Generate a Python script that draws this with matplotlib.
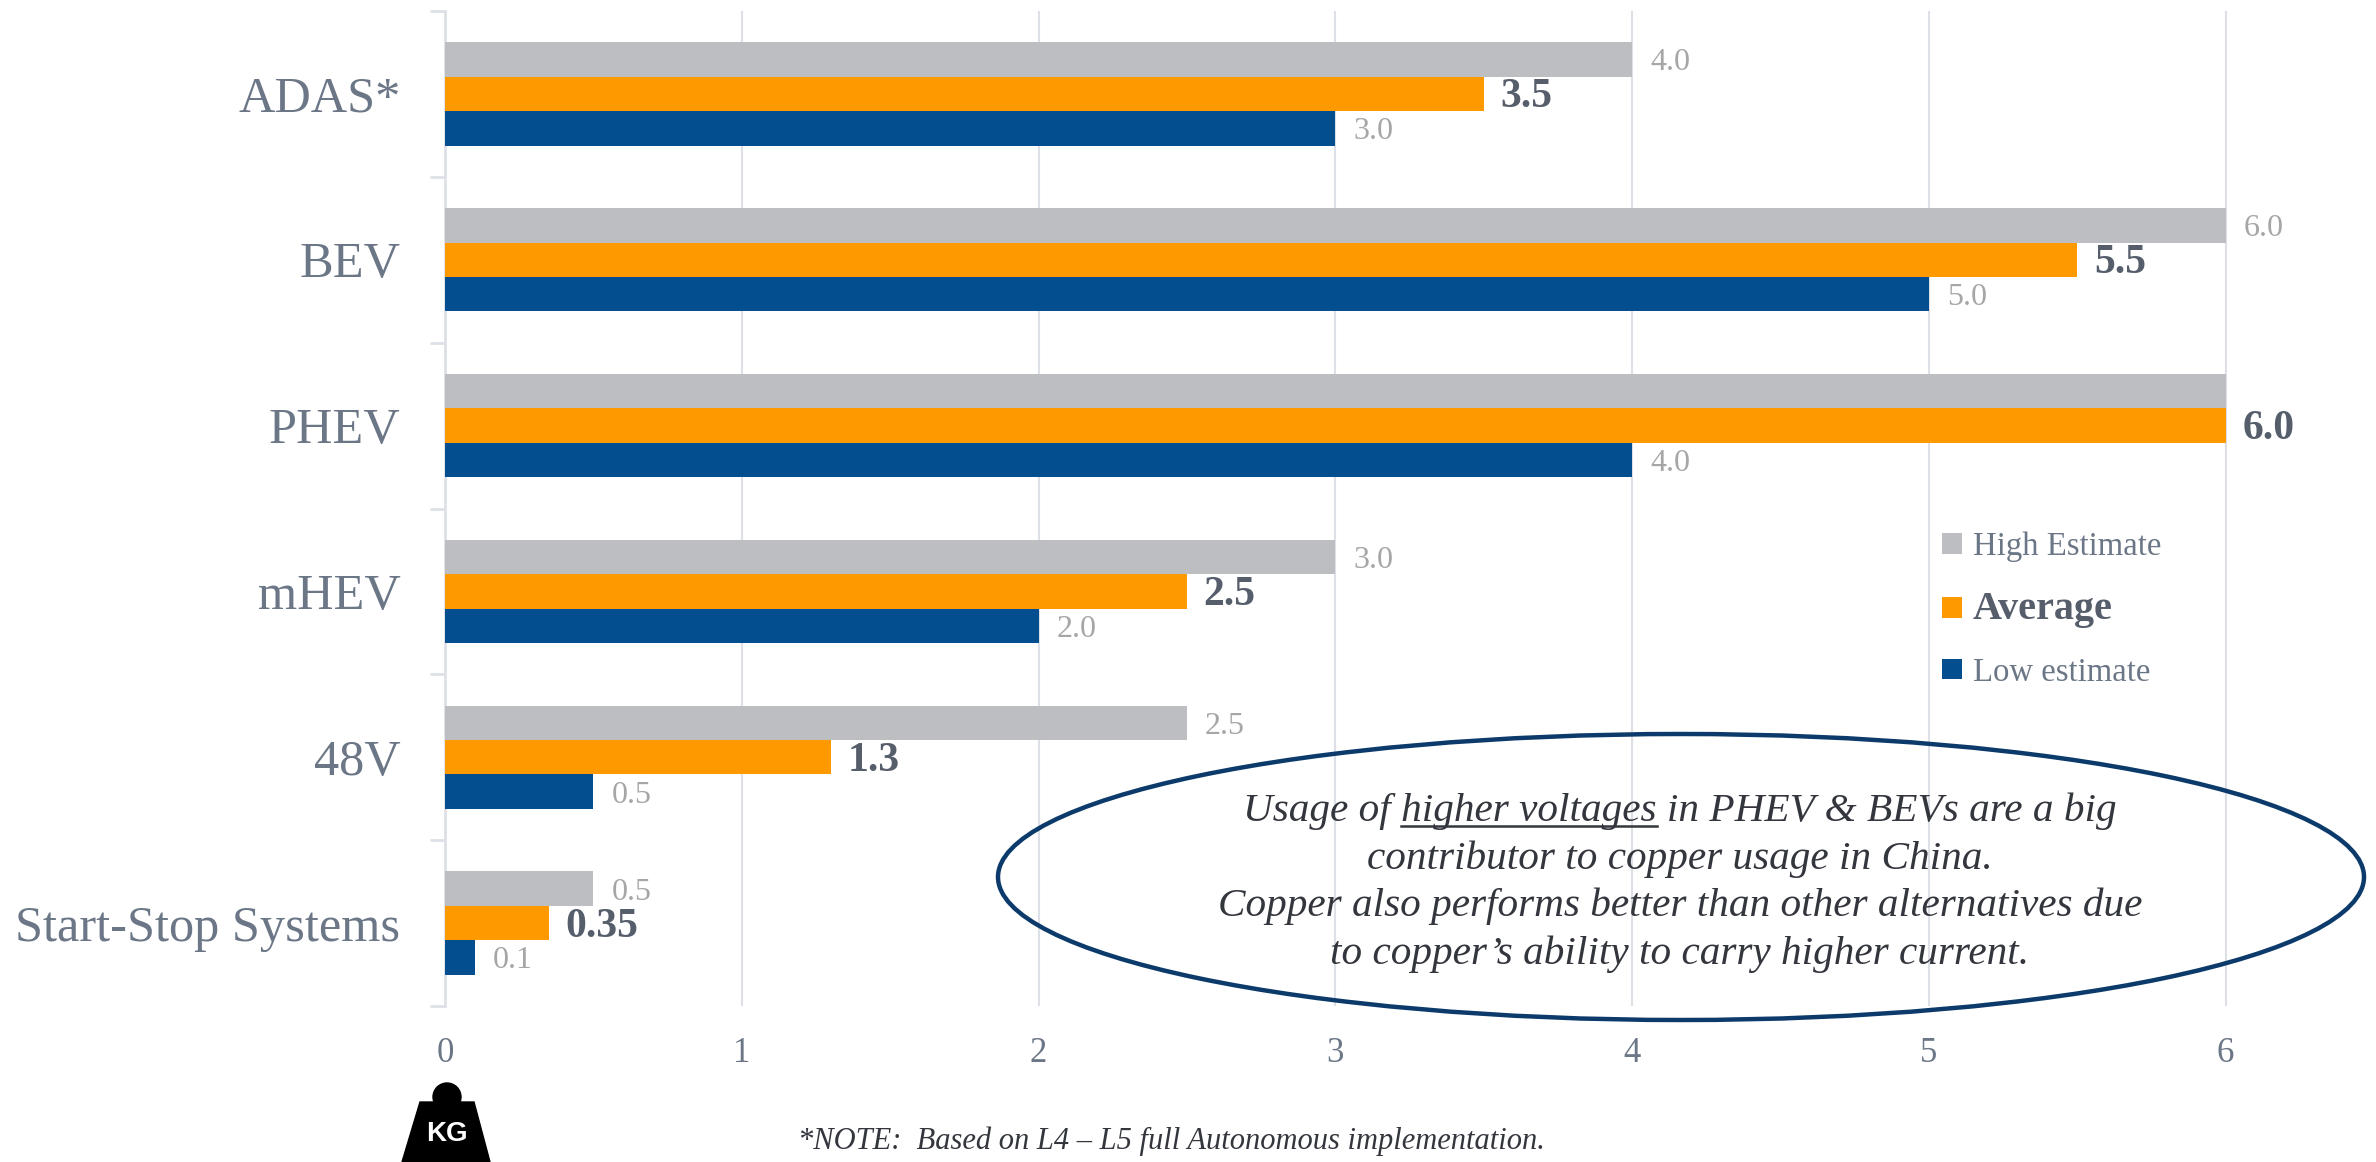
import numpy as np
import matplotlib
matplotlib.use('Agg')
import matplotlib.pyplot as plt
from matplotlib.patches import Ellipse, Polygon, Circle

plt.rcParams['font.family'] = ['Liberation Serif', 'DejaVu Serif']

# data
categories = ['ADAS*', 'BEV', 'PHEV', 'mHEV', '48V', 'Start-Stop Systems']
high = [4.0, 6.0, 6.0, 3.0, 2.5, 0.5]
average = [3.5, 5.5, 6.0, 2.5, 1.3, 0.35]
low = [3.0, 5.0, 4.0, 2.0, 0.5, 0.1]
high_labels = ['4.0', '6.0', '', '3.0', '2.5', '0.5']
average_labels = ['3.5', '5.5', '6.0', '2.5', '1.3', '0.35']
low_labels = ['3.0', '5.0', '4.0', '2.0', '0.5', '0.1']
x_ticks = [0, 1, 2, 3, 4, 5, 6]
note_lines = ['Usage of higher voltages in PHEV & BEVs are a big',
              'contributor to copper usage in China.',
              'Copper also performs better than other alternatives due',
              'to copper\u2019s ability to carry higher current.']

W, H = 2376, 1162
GREY_BAR = '#BCBEC2'
ORANGE = '#FF9900'
BLUE = '#034E8F'
AXIS_C = '#DDE0E6'
LABEL_C = '#6B7686'
VALUE_C = '#A6A6A6'
BOLD_C = '#565E6C'
TEXT_C = '#33363D'

fig = plt.figure(figsize=(W / 100, H / 100), dpi=100)
ax = fig.add_axes([445 / W, 1 - 1006 / H, 1929 / W, 995 / H])

y = np.arange(len(categories))
bh = 0.2075
bars_high = ax.barh(y - bh, high, bh, color=GREY_BAR, label='High Estimate', zorder=3)
bars_avg = ax.barh(y, average, bh, color=ORANGE, label='Average', zorder=3)
bars_low = ax.barh(y + bh, low, bh, color=BLUE, label='Low estimate', zorder=3)

ax.set_xlim(0, 6.5)
ax.set_ylim(5.5, -0.5)

# value labels next to the bars, nudged down a little
value_texts = []
value_texts += ax.bar_label(bars_high, labels=high_labels, padding=13, fontsize=23, color=VALUE_C)
value_texts += ax.bar_label(bars_avg, labels=average_labels, padding=12, fontsize=30, color=BOLD_C, fontweight='bold')
value_texts += ax.bar_label(bars_low, labels=low_labels, padding=13, fontsize=23, color=VALUE_C)
for t in value_texts:
    t.xyann = (t.xyann[0], -2.5)

# axes
for s in ['top', 'right', 'bottom']:
    ax.spines[s].set_visible(False)
ax.spines['left'].set_color(AXIS_C)
ax.spines['left'].set_linewidth(2)
ax.set_xticks(x_ticks)
ax.tick_params(axis='x', length=0, pad=22, labelsize=25, labelcolor=LABEL_C)
ax.set_yticks(np.arange(-0.5, 6), labels=[''] * 7)
ax.tick_params(axis='y', which='major', length=11, width=2, color=AXIS_C)
ax.set_yticks(y, labels=categories, minor=True)
ax.tick_params(axis='y', which='minor', length=0, pad=32, labelsize=36.3, labelcolor=LABEL_C)
ax.grid(axis='x', color=AXIS_C, linewidth=1.5, zorder=0)
ax.set_axisbelow(True)

# legend
leg = ax.legend(handles=[bars_high, bars_avg, bars_low], frameon=False, loc='upper left',
                bbox_to_anchor=(0.776, 0.4765), fontsize=23.6, labelspacing=0.88,
                handlelength=0.6, handleheight=0.6, handletextpad=0.35, labelcolor=LABEL_C,
                borderaxespad=0, borderpad=0)
leg.get_texts()[1].set_fontweight('bold')
leg.get_texts()[1].set_fontsize(29)
leg.get_texts()[1].set_color(BOLD_C)

# overlay in pixel coordinates for the callout, note and weight icon
ov = fig.add_axes([0, 0, 1, 1])
ov.set_xlim(0, W)
ov.set_ylim(H, 0)
ov.axis('off')
ov.patch.set_alpha(0)

ov.add_patch(Ellipse((1681, 877), 1366, 286, fill=False, edgecolor='#0B3A6B', linewidth=3.2))

line_y = [811, 859, 906, 954]
for txt, ly in zip(note_lines, line_y):
    ov.text(1680, ly, txt, ha='center', va='center', fontsize=29.7, style='italic', color=TEXT_C)

# underline for "higher voltages", measured from the first line
fig.canvas.draw()
rend = fig.canvas.get_renderer()
def text_w(s):
    t = ov.text(0, 0, s, fontsize=29.7, style='italic')
    w = t.get_window_extent(rend).width
    t.remove()
    return w
full = text_w(note_lines[0])
x0 = 1680 - full / 2 + text_w('Usage of ')
x1 = 1680 - full / 2 + text_w('Usage of higher voltages')
ov.plot([x0, x1], [826, 826], color=TEXT_C, linewidth=1.8)

ov.text(798, 1141, '*NOTE:  Based on L4 \u2013 L5 full Autonomous implementation.', ha='left', va='center',
        fontsize=22, style='italic', color=TEXT_C)

# KG weight icon
ov.add_patch(Circle((447, 1097), 14, color='black'))
ov.add_patch(Polygon([(420, 1102), (474, 1102), (490, 1162), (402, 1162)], color='black'))
ov.text(447, 1134, 'KG', ha='center', va='center', fontsize=20, fontweight='bold', color='white',
        family='Liberation Sans')

fig.savefig('out.png', dpi=100)
